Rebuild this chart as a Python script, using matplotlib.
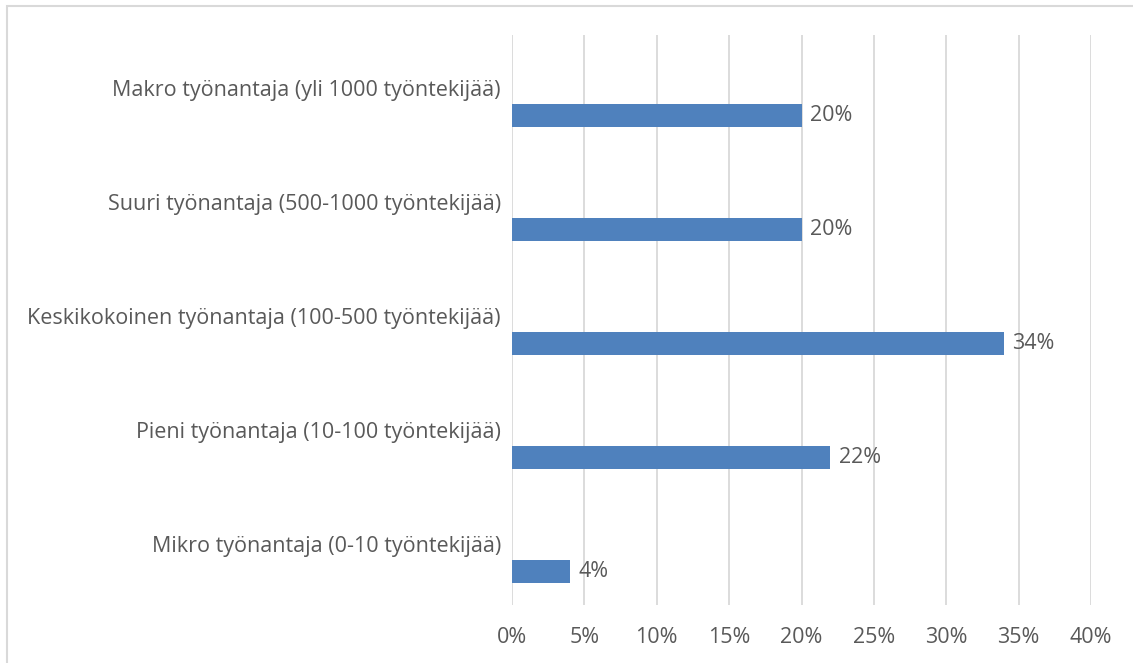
import matplotlib.pyplot as plt
import matplotlib.transforms as mtransforms
from matplotlib.patches import Rectangle

categories = [
    "Makro työnantaja (yli 1000 työntekijää)",
    "Suuri työnantaja (500-1000 työntekijää)",
    "Keskikokoinen työnantaja (100-500 työntekijää)",
    "Pieni työnantaja (10-100 työntekijää)",
    "Mikro työnantaja (0-10 työntekijää)",
]
values = [0.20, 0.20, 0.34, 0.22, 0.04]
xticks = [0, 0.05, 0.10, 0.15, 0.20, 0.25, 0.30, 0.35, 0.40]

text_color = "#595959"
bar_color = "#4F81BD"
grid_color = "#D9D9D9"
fs = 15.5

plt.rcParams['font.family'] = ['Open Sans', 'DejaVu Sans']

fig = plt.figure(figsize=(11.33, 6.63), dpi=100)
ax = fig.add_axes([512 / 1133, 58 / 663, 579 / 1133, 570 / 663])

pos = list(range(len(categories)))
bar_pos = [p + 0.206 for p in pos]
ax.barh(bar_pos, values, height=0.2, color=bar_color, zorder=3)

for y, v in zip(bar_pos, values):
    ax.annotate(f"{v * 100:.0f}%", (v, y), xytext=(6, 0), textcoords="offset points",
                va="center", ha="left", fontsize=fs, color=text_color)

ax.set_xlim(0, 0.40)
ax.set_ylim(len(categories) - 0.5, -0.5)
ax.set_xticks(xticks)
ax.set_xticklabels([f"{t * 100:.0f}%" for t in xticks])
ax.set_yticks(pos)
ax.set_yticklabels(categories)
ax.tick_params(axis="both", length=0, labelsize=fs, labelcolor=text_color)
ax.tick_params(axis="x", pad=16)
ax.tick_params(axis="y", pad=8)
shift = mtransforms.ScaledTranslation(0, 3 / 72, fig.dpi_scale_trans)
for lbl in ax.get_yticklabels():
    lbl.set_transform(lbl.get_transform() + shift)

ax.grid(axis="x", color=grid_color, linewidth=1.3, zorder=0)
for s in ax.spines.values():
    s.set_visible(False)

# chart area border (cropped at right and bottom)
fig.patches.append(Rectangle((6.5 / 1133, -0.1), 1.2, (663 - 6.5) / 663 + 0.1,
                             transform=fig.transFigure, fill=False,
                             edgecolor=grid_color, linewidth=1.5))

fig.savefig("out.png", dpi=100)
